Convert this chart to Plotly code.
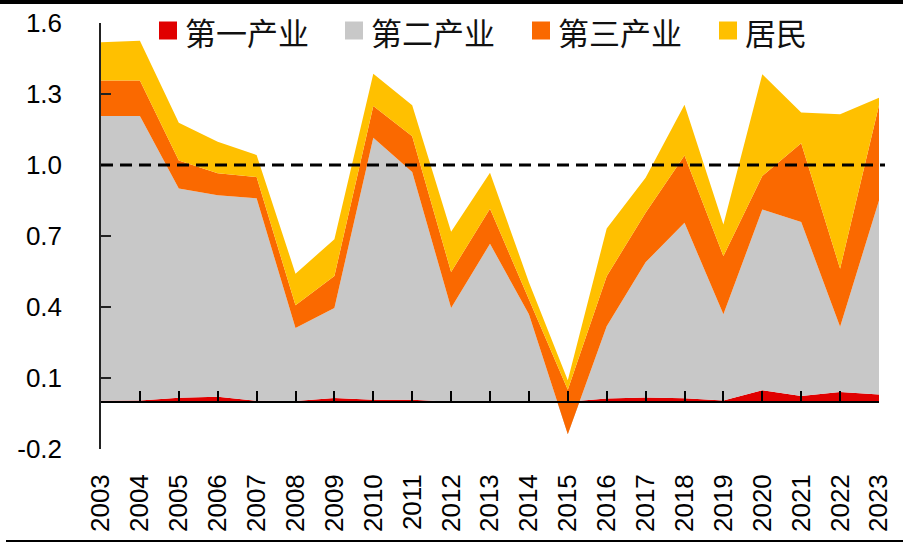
import plotly.graph_objects as go

years = list(range(2003, 2024))
year_labels = [str(y) for y in years]

# contributions by sector
primary = [0.004, 0.005, 0.017, 0.021, 0.004, 0.003, 0.016, 0.008, 0.008, 0.0, 0.0,
           0.0, 0.0, 0.013, 0.018, 0.014, 0.005, 0.048, 0.024, 0.041, 0.030]
secondary = [1.203, 1.202, 0.884, 0.851, 0.855, 0.308, 0.380, 1.107, 0.962, 0.396, 0.667,
             0.369, -0.138, 0.306, 0.571, 0.742, 0.364, 0.764, 0.735, 0.276, 0.820]
tertiary = [0.150, 0.150, 0.118, 0.093, 0.090, 0.096, 0.135, 0.134, 0.152, 0.152, 0.148,
            0.061, 0.188, 0.211, 0.209, 0.284, 0.246, 0.141, 0.333, 0.245, 0.402]
resident = [0.162, 0.168, 0.160, 0.133, 0.093, 0.134, 0.155, 0.137, 0.130, 0.170, 0.152,
            0.075, 0.040, 0.202, 0.148, 0.215, 0.134, 0.430, 0.130, 0.652, 0.032]

series_names = ["第一产业", "第二产业", "第三产业", "居民"]
series_colors = ["#E00000", "#C8C8C8", "#FA6900", "#FFC000"]
series_values = [primary, secondary, tertiary, resident]

y_ticks = [-0.2, 0.1, 0.4, 0.7, 1.0, 1.3, 1.6]
y_tick_text = [f"{v:.1f}" for v in y_ticks]

# layout geometry (pixels)
W, H = 903, 543
ML, MR, MT, MB = 101, 24, 23, 94
PW, PH = W - ML - MR, H - MT - MB


def px_x(p):
    return (p - ML) / PW


def px_y(p):
    return (H - MB - p) / PH


fig = go.Figure()
for name, color, vals in zip(series_names, series_colors, series_values):
    fig.add_trace(go.Scatter(
        x=years, y=vals, name=name, stackgroup="one", mode="lines",
        line=dict(width=0, color=color), fillcolor=color,
        showlegend=False, hoverinfo="x+y+name"))

# helper trace so that the zero-line axis is drawn
fig.add_trace(go.Scatter(x=[years[0]], y=[None], xaxis="x2", mode="markers",
                         showlegend=False, hoverinfo="skip"))

# legend drawn as boxes + text
legend_box_left = [159, 345, 532, 719]
shapes = []
annotations = []
for name, color, bx in zip(series_names, series_colors, legend_box_left):
    shapes.append(dict(type="rect", xref="paper", yref="paper",
                       x0=px_x(bx), x1=px_x(bx + 18), y0=px_y(39.5), y1=px_y(21.5),
                       fillcolor=color, line=dict(width=0)))
    annotations.append(dict(text=name, xref="paper", yref="paper",
                            x=px_x(bx + 24), y=px_y(31.5), xanchor="left", yanchor="middle",
                            showarrow=False,
                            font=dict(size=31, family="Noto Sans CJK SC, sans-serif", color="#111")))

shapes += [
    dict(type="line", xref="paper", yref="y", x0=0, x1=px_x(885), y0=1.0, y1=1.0,
         line=dict(color="#000", width=3, dash="12px,7px")),
    dict(type="rect", xref="paper", yref="paper", x0=px_x(0), x1=px_x(903), y0=px_y(4), y1=px_y(0),
         fillcolor="#000", line=dict(width=0), layer="above"),
    dict(type="rect", xref="paper", yref="paper", x0=px_x(6), x1=px_x(903), y0=px_y(542), y1=px_y(540),
         fillcolor="#000", line=dict(width=0)),
]

fig.update_layout(
    width=W, height=H,
    margin=dict(l=ML, r=MR, t=MT, b=MB, autoexpand=False),
    paper_bgcolor="white", plot_bgcolor="white",
    showlegend=False,
    font=dict(family="Liberation Sans, Arial, sans-serif", color="#000"),
    xaxis=dict(range=[2003, 2023], tickvals=years, ticktext=year_labels,
               tickangle=-90, ticks="", showline=False, showgrid=False, zeroline=False,
               tickfont=dict(size=26, family="Liberation Sans, Arial, sans-serif"),
               ticklabelstandoff=19),
    xaxis2=dict(range=[2003, 2023], overlaying="x", anchor="free", position=1/9,
                tickvals=years, ticks="inside", ticklen=10, tickwidth=1.5, tickcolor="#000",
                showline=True, linecolor="#000", linewidth=1.5,
                showticklabels=False, showgrid=False, zeroline=False),
    yaxis=dict(range=[-0.2, 1.6], tickvals=y_ticks, ticktext=y_tick_text,
               ticks="inside", ticklen=10, tickwidth=1.5, tickcolor="#222",
               showline=True, linecolor="#222", linewidth=1.5,
               showgrid=False, zeroline=False,
               tickfont=dict(size=26, family="Liberation Sans, Arial, sans-serif"),
               ticklabelstandoff=32),
    shapes=shapes,
    annotations=annotations,
)

fig.write_html("out.html",
               config={"displayModeBar": False},
               post_script="document.body.style.margin='0';document.body.style.overflow='hidden';")
